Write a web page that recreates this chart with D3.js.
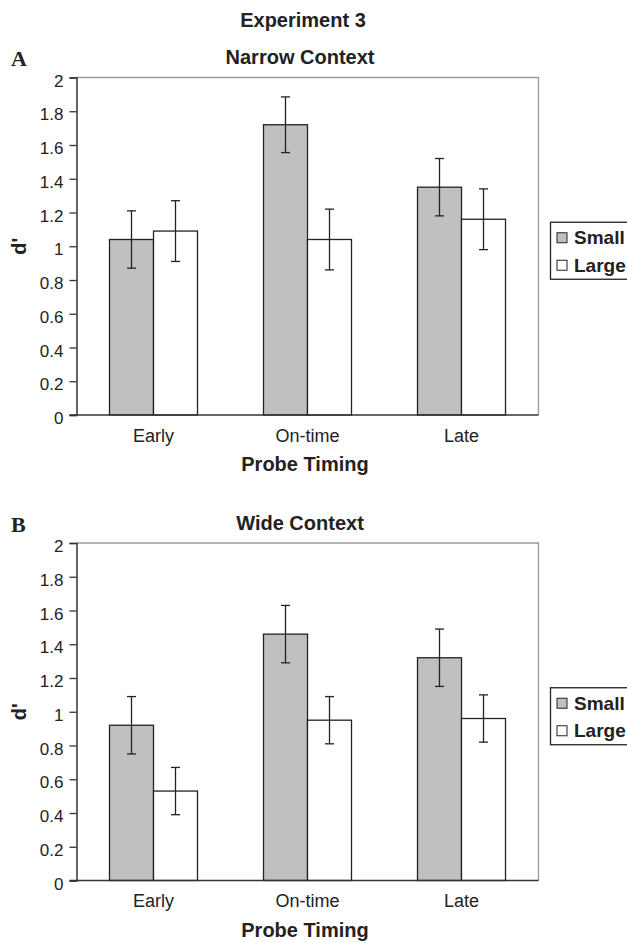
<!DOCTYPE html>
<html>
<head>
<meta charset="utf-8">
<script src="https://cdn.jsdelivr.net/npm/d3@7"></script>
<style>
  body { margin: 0; background: #fff; }
  text { font-family: "Liberation Sans", Arial, sans-serif; fill: #222; }
</style>
</head>
<body>
<div id="container"></div>
<script>
const categories = ["Early", "On-time", "Late"];
const seriesNames = ["Small", "Large"];
const yTicks = [0, 0.2, 0.4, 0.6, 0.8, 1, 1.2, 1.4, 1.6, 1.8, 2];

// Narrow context (panel A)
const narrowSmall = [1.04, 1.72, 1.35];
const narrowLarge = [1.09, 1.04, 1.16];
const narrowSmallErr = [0.17, 0.165, 0.17];
const narrowLargeErr = [0.18, 0.18, 0.18];

// Wide context (panel B)
const wideSmall = [0.92, 1.46, 1.32];
const wideLarge = [0.53, 0.95, 0.96];
const wideSmallErr = [0.17, 0.17, 0.17];
const wideLargeErr = [0.14, 0.14, 0.14];

const width = 627;
const height = 943;
const plot = { left: 76.5, right: 538.5, height: 337.5 };
const fills = { Small: "#c0c0c0", Large: "#ffffff" };

const svg = d3.select("#container")
              .append("svg")
              .attr("width", width)
              .attr("height", height);

svg.append("text")
   .text("Experiment 3")
   .attr("x", 303)
   .attr("y", 27)
   .attr("text-anchor", "middle")
   .style("font-size", "20px")
   .style("font-weight", "bold");

const drawPanel = (top, letter, title, small, large, smallErr, largeErr) => {
  const bottom = top + plot.height;
  const g = svg.append("g");

  const rows = categories.map((c, i) => ({
    cat: c,
    values: [
      { key: "Small", v: small[i], e: smallErr[i] },
      { key: "Large", v: large[i], e: largeErr[i] }
    ]
  }));

  const x0 = d3.scaleBand()
               .domain(categories)
               .range([plot.left, plot.right])
               .paddingInner(1.5 / 3.5)
               .paddingOuter(0.75 / 3.5);
  const x1 = d3.scaleBand()
               .domain(seriesNames)
               .range([0, x0.bandwidth()]);
  const y = d3.scaleLinear()
              .domain([0, 2])
              .range([bottom, top]);

  // frame: light top/right, dark left/bottom
  g.append("path")
   .attr("d", `M${plot.left},${top}H${plot.right}V${bottom}`)
   .attr("fill", "none")
   .attr("stroke", "#999")
   .attr("stroke-width", 1.3);

  const bars = g.selectAll(".grp")
                .data(rows)
                .enter()
                .append("g")
                .attr("transform", (d) => "translate(" + x0(d.cat) + ",0)");

  bars.selectAll("rect")
      .data((d) => d.values)
      .enter()
      .append("rect")
      .attr("x", (d) => x1(d.key))
      .attr("y", (d) => y(d.v))
      .attr("width", x1.bandwidth())
      .attr("height", (d) => bottom - y(d.v))
      .attr("fill", (d) => fills[d.key])
      .attr("stroke", "#222")
      .attr("stroke-width", 1.3);

  const err = bars.selectAll(".err")
                  .data((d) => d.values)
                  .enter()
                  .append("g")
                  .attr("class", "err")
                  .attr("stroke", "#222")
                  .attr("stroke-width", 1.3);
  const cx = (d) => x1(d.key) + x1.bandwidth() / 2;
  err.append("line")
     .attr("x1", cx).attr("x2", cx)
     .attr("y1", (d) => y(d.v + d.e))
     .attr("y2", (d) => y(d.v - d.e));
  err.append("line")
     .attr("x1", (d) => cx(d) - 4.5).attr("x2", (d) => cx(d) + 4.5)
     .attr("y1", (d) => y(d.v + d.e)).attr("y2", (d) => y(d.v + d.e));
  err.append("line")
     .attr("x1", (d) => cx(d) - 4.5).attr("x2", (d) => cx(d) + 4.5)
     .attr("y1", (d) => y(d.v - d.e)).attr("y2", (d) => y(d.v - d.e));

  const yAxis = d3.axisLeft(y)
                  .tickValues(yTicks)
                  .tickSize(7)
                  .tickPadding(6)
                  .tickFormat((d) => String(d));
  const ya = g.append("g")
              .attr("transform", "translate(" + plot.left + ",0)")
              .call(yAxis);
  ya.select(".domain").attr("stroke", "#333").attr("stroke-width", 1.5);
  ya.selectAll(".tick line").attr("stroke", "#333").attr("stroke-width", 1.3);
  ya.selectAll(".tick text")
    .attr("dy", "0.5em")
    .style("font-size", "17px")
    .style("fill", "#222");

  const xAxis = d3.axisBottom(x0).tickSize(0).tickPadding(8);
  const xa = g.append("g")
              .attr("transform", "translate(0," + bottom + ")")
              .call(xAxis);
  xa.select(".domain")
    .attr("d", `M${plot.left - 7},0H${plot.right}`)
    .attr("stroke", "#333")
    .attr("stroke-width", 1.5);
  xa.selectAll(".tick text")
    .attr("dy", "1.05em")
    .style("font-size", "18px")
    .style("fill", "#222");

  g.append("text")
   .text(title)
   .attr("x", 300)
   .attr("y", top - 13.5)
   .attr("text-anchor", "middle")
   .style("font-size", "20px")
   .style("font-weight", "bold");

  g.append("text")
   .text(letter)
   .attr("x", 11)
   .attr("y", top - 11.5)
   .style("font-family", "'Liberation Serif', 'Times New Roman', serif")
   .style("font-size", "22px")
   .style("font-weight", "bold");

  g.append("text")
   .text("Probe Timing")
   .attr("x", 305)
   .attr("y", bottom + 56)
   .attr("text-anchor", "middle")
   .style("font-size", "20px")
   .style("font-weight", "bold");

  g.append("text")
   .text("d'")
   .attr("transform", "translate(26," + (top + plot.height / 2) + ")rotate(-90)")
   .attr("text-anchor", "middle")
   .style("font-size", "20px")
   .style("font-weight", "bold");

  // legend
  const ly = top + plot.height / 2 - 24;
  const legend = g.append("g").attr("transform", "translate(550.5," + ly + ")");
  legend.append("rect")
        .attr("width", 90)
        .attr("height", 57)
        .attr("fill", "#fff")
        .attr("stroke", "#222")
        .attr("stroke-width", 1.3);
  const item = legend.selectAll(".item")
                     .data(seriesNames)
                     .enter()
                     .append("g")
                     .attr("transform", (d, i) => "translate(0," + (i * 27.5) + ")");
  item.append("rect")
      .attr("x", 6.5)
      .attr("y", 10.5)
      .attr("width", 10)
      .attr("height", 10)
      .attr("fill", (d) => fills[d])
      .attr("stroke", "#222")
      .attr("stroke-width", 1);
  item.append("text")
      .text((d) => d)
      .attr("x", 23.5)
      .attr("y", 22)
      .style("font-size", "19px")
      .style("font-weight", "bold");
};

drawPanel(77.5, "A", "Narrow Context", narrowSmall, narrowLarge, narrowSmallErr, narrowLargeErr);
drawPanel(543, "B", "Wide Context", wideSmall, wideLarge, wideSmallErr, wideLargeErr);
</script>
</body>
</html>
